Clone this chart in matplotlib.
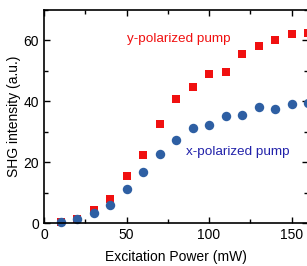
import numpy as np
import matplotlib.pyplot as plt
from matplotlib.ticker import MultipleLocator

plt.rcParams['font.family'] = ['Liberation Sans', 'DejaVu Sans']

# excitation power (mW)
power = [10, 20, 30, 40, 50, 60, 70, 80, 90, 100, 110, 120, 130, 140, 150, 160]
# SHG intensity (a.u.)
shg_y = [0.3, 1.5, 4.5, 8.0, 15.4, 22.4, 32.5, 40.7, 44.6, 49.1, 49.7, 55.7, 58.2, 60.0, 62.0, 62.5]
shg_x = [0.3, 1.3, 3.5, 6.1, 11.2, 16.7, 22.8, 27.5, 31.3, 32.2, 35.1, 35.4, 38.1, 37.5, 39.2, 39.4]

red = '#f01010'
blue = '#2e5fa3'

fig = plt.figure(figsize=(3.07, 2.66), dpi=100)
# axes run slightly past the right edge, as in the cropped original
ax = fig.add_axes([44 / 307, (266 - 223.3) / 266, (308 - 44) / 307, (223.3 - 10) / 266])

ax.plot(power, shg_y, 's', color=red, ms=5.8, mew=0, clip_on=False)
ax.plot(power, shg_x, 'o', color=blue, ms=6.8, mew=0, clip_on=False)

ax.set_xlim(0, 160)
ax.set_ylim(0, 70)
ax.xaxis.set_major_locator(MultipleLocator(50))
ax.xaxis.set_minor_locator(MultipleLocator(25))
ax.yaxis.set_major_locator(MultipleLocator(20))
ax.yaxis.set_minor_locator(MultipleLocator(10))
ax.tick_params(which='both', direction='in', top=True, right=True, labelsize=10, width=1)
ax.tick_params(which='major', length=4)
ax.tick_params(which='minor', length=3)
for s in ax.spines.values():
    s.set_linewidth(1.2)

ax.set_xlabel('Excitation Power (mW)', fontsize=10, labelpad=6)
ax.set_ylabel('SHG intensity (a.u.)', fontsize=10, labelpad=2)

ax.text(50.5, 60.5, 'y-polarized pump', color=red, fontsize=9.7, va='center')
ax.text(86, 23.5, 'x-polarized pump', color='#2222aa', fontsize=9.7, va='center')

fig.savefig('out.png', dpi=100)
